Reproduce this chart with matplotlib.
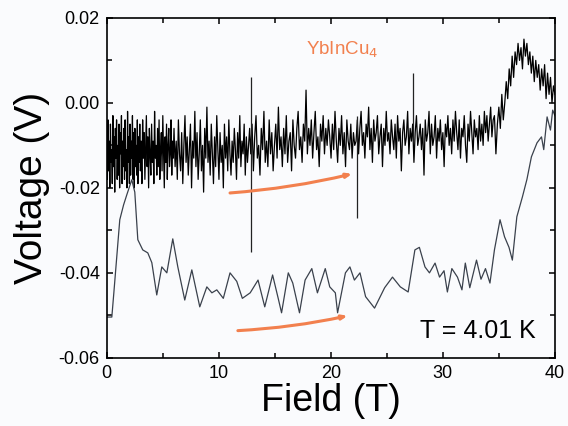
import numpy as np
import matplotlib
matplotlib.use("Agg")
import matplotlib.pyplot as plt
from matplotlib.ticker import MultipleLocator

plt.rcParams['font.family'] = ['Liberation Sans', 'DejaVu Sans']

# ---- datos (campo en T, voltaje en mV) ----
# traza inferior (suave)
low_field = [0.0, 0.45, 0.63, 1.16, 1.5, 1.79, 2.23, 2.5, 2.77, 3.21, 3.66, 4.02, 4.46,
             4.91, 5.36, 5.89, 6.34, 6.96, 7.59, 8.30, 8.93, 9.38, 9.82, 10.4, 11.0,
             11.6, 12.1, 12.8, 13.5, 14.1, 14.8, 15.3, 15.6, 16.2, 16.6, 17.2, 17.7,
             18.3, 18.8, 19.5, 19.9, 20.4, 20.6, 21.3, 21.7, 22.1, 22.6, 23.1, 23.9,
             24.8, 25.5, 26.2, 26.9, 27.5, 27.9, 28.4, 28.8, 29.3, 29.7, 30.1, 30.4,
             30.8, 31.3, 31.7, 32.0, 32.4, 33.0, 33.4, 33.8, 34.2, 34.6, 35.1, 35.5,
             35.9, 36.2, 36.6, 37.1, 37.5, 37.9, 38.4, 38.8, 39.0, 39.3, 39.6, 39.8, 40.0]
low_mv = [-50.4, -50.4, -44.7, -27.5, -24.0, -21.6, -18.1, -21.0, -32.2, -34.6, -35.3,
          -37.6, -45.2, -38.6, -40.0, -32.0, -38.6, -46.4, -39.3, -48.0, -43.3, -44.7,
          -44.0, -46.0, -40.0, -42.0, -46.0, -44.7, -41.7, -48.0, -40.5, -46.0, -49.4,
          -40.0, -42.4, -49.4, -41.7, -39.0, -44.7, -39.0, -43.3, -44.7, -49.4, -40.0,
          -38.6, -41.7, -40.0, -45.6, -48.3, -43.5, -41.0, -43.3, -44.5, -34.6, -34.0,
          -38.6, -40.0, -37.7, -41.0, -39.5, -44.5, -39.0, -41.0, -44.0, -37.7, -43.5,
          -37.0, -41.5, -39.0, -42.4, -34.6, -27.5, -31.5, -34.0, -37.0, -26.8, -22.1,
          -18.0, -12.7, -9.4, -8.0, -11.0, -3.3, -6.4, -1.7, -3.0]

# traza superior (ruidosa), por tramos
up_a = [-7, -18, -4, -16, -9, -20, -5, -14, -11, -19, -3, -15, -8, -21, -6, -13, -4, -18,
        -10, -17, -5, -20, -7, -12, -3, -19, -9, -15, -6, -18, -4, -16, -11, -20, -2, -14,
        -8, -19, -5, -17, -9, -13, -3, -18, -7, -20, -6, -15, -10, -17, -4, -19, -8, -14, -5]
up_a2 = [-16, -9, -19, -4, -13, -7, -18, -11, -3, -15, -8, -20, -6, -12, -17, -5, -14, -9,
         -19, -2, -13, -10, -17, -6, -15, -4, -18, -11, -7, -16, -3, -12, -20, -8, -14, -5,
         -18, -10, -6, -15, -12, -4, -17, -9, -13]
up_b = [-6, -15, -9, -18, -4, -12, -16, -7, -19, -10, -3, -14, -8, -17, -11, -5, -20, -9,
        -13, -2, -15, -7, -18, -12, -4, -16, -10, -21, -6, -13, -1, -14, -9, -17, -5, -12,
        -19, -8, -15, -3, -11, -18, -7, -14, -10, -20, -5, -13, -8, -16, -4, -12, -17, -9,
        -14, -6, -11, -18, -7, -13, -3, -15, -9, -12, -5, -17, -8, -14, -10, -6]
up_c = [-12, -5, -16, -8, -3, -13, -10, -17, -6, -11, -2, -14, -9, -15, -4, -12, -7, -16,
        -10, -5, -13, -1, -11, -8, -15, -6, -12, -3, -14, -9, -7, -16, -4, -10, -13, -6,
        -2, -11, -8, -14, -5, -9, 3, -12, -6, -10, -4, -13, -7, -2, -11, -8, -15, -5, -9,
        -3, -12, -6, -10, -4, -8, -13, -5, -11, -2, -9, -14, -6, -10, -3, -12, -7, -15, -4,
        -9, -11, -5, -13, -7, -10]
up_d = [-9, -4, -12, -6, -2, -10, -7, -13, -5, -8, -1, -11, -6, -14, -4, -9, -7, -3, -12,
        -8, -5, -15, -6, -10, -2, -9, -7, -12, -4, -8, -11, -5, -13, -3, -9, -6, -16, -7,
        -4, -10, -8, -2, -12, -6, -9, -5, -14, -7, -3, -10, -8, -5, -11, -6, -17, -4, -9,
        -7, -2, -12, -5, -10, -8, -3, -13, -6, -9, -4, -11, -7, -15, -5, -8, -3, -10, -6,
        -12, -4, -9, -2, -7, -11, -4, -13, -6, -8, -3, -10, -14, -5, -9, -2, -7, -12, -4,
        -8, -6, -11, -3, -9, -5, -10, -2, -7, -3, -9, -5, -1, -8, -4]
up_e = [-3, -12, -5, -1, -6, 2, -4, 0, 5, 1, 8, 4, 11, 6, 12, 9, 14, 10, 13, 8, 15, 11,
        14, 9, 12, 7, 11, 5, 10, 6, 9, 3, 8, 4, 9, 1, 7, 2, 6, 0, 4]
# limites de cada tramo (T)
seg_edges = [0, 3, 6, 12.85, 22.25, 34.6, 40]

# picos verticales
spike_field = [12.9, 22.3, 27.3]
spike_top = [6, -3, 7]
spike_bottom = [-35, -27, -9]

# ---- figura ----
fig = plt.figure(figsize=(5.68, 4.26), dpi=100, facecolor='#fafbfd')
ax = fig.add_axes([0.188, 0.160, 0.789, 0.798])
ax.set_facecolor('#fafbfd')

up_f = []
up_v = []
for i, seg in enumerate([up_a, up_a2, up_b, up_c, up_d, up_e]):
    up_f += list(np.linspace(seg_edges[i], seg_edges[i + 1], len(seg), endpoint=False))
    up_v += seg
up_f.append(40.0)
up_v.append(2)

up_v = np.array(up_v) / 1000.0
ax.plot(up_f, up_v, color='black', lw=0.9)
ax.vlines(spike_field, np.array(spike_bottom) / 1000.0, np.array(spike_top) / 1000.0,
          color='#222222', lw=0.9)
ax.plot(low_field, np.array(low_mv) / 1000.0, color='#3a414c', lw=0.9)

# flechas naranjas
orange = '#f2804e'
ax.annotate('', xy=(21.9, -0.0167), xytext=(11.0, -0.0212),
            arrowprops=dict(arrowstyle='-|>,head_length=0.3,head_width=0.12', color=orange,
                            lw=2.2, connectionstyle='arc3,rad=0.04', shrinkA=0, shrinkB=0))
ax.annotate('', xy=(21.5, -0.0501), xytext=(11.7, -0.0536),
            arrowprops=dict(arrowstyle='-|>,head_length=0.3,head_width=0.12', color=orange,
                            lw=2.2, connectionstyle='arc3,rad=0.04', shrinkA=0, shrinkB=0))

ax.text(21.0, 0.0125, 'YbInCu$_4$', color=orange, fontsize=13.5, ha='center', va='center')
ax.text(38.3, -0.0553, 'T = 4.01 K', fontsize=18, ha='right', va='baseline')

ax.set_xlim(0, 40)
ax.set_ylim(-0.06, 0.02)
ax.xaxis.set_major_locator(MultipleLocator(10))
ax.xaxis.set_minor_locator(MultipleLocator(5))
ax.yaxis.set_major_locator(MultipleLocator(0.02))
ax.yaxis.set_minor_locator(MultipleLocator(0.01))
ax.yaxis.set_major_formatter(plt.FormatStrFormatter('%.2f'))
ax.tick_params(which='both', direction='in', top=True, right=True, width=1.1, labelsize=13)
ax.tick_params(which='major', length=4.5, pad=5)
ax.tick_params(which='minor', length=3.5)
for sp in ax.spines.values():
    sp.set_linewidth(1.2)

ax.set_xlabel('Field (T)', fontsize=27, labelpad=1)
ax.set_ylabel('Voltage (V)', fontsize=28, labelpad=6)

plt.savefig('out.png', dpi=100, facecolor=fig.get_facecolor())
plt.close()
